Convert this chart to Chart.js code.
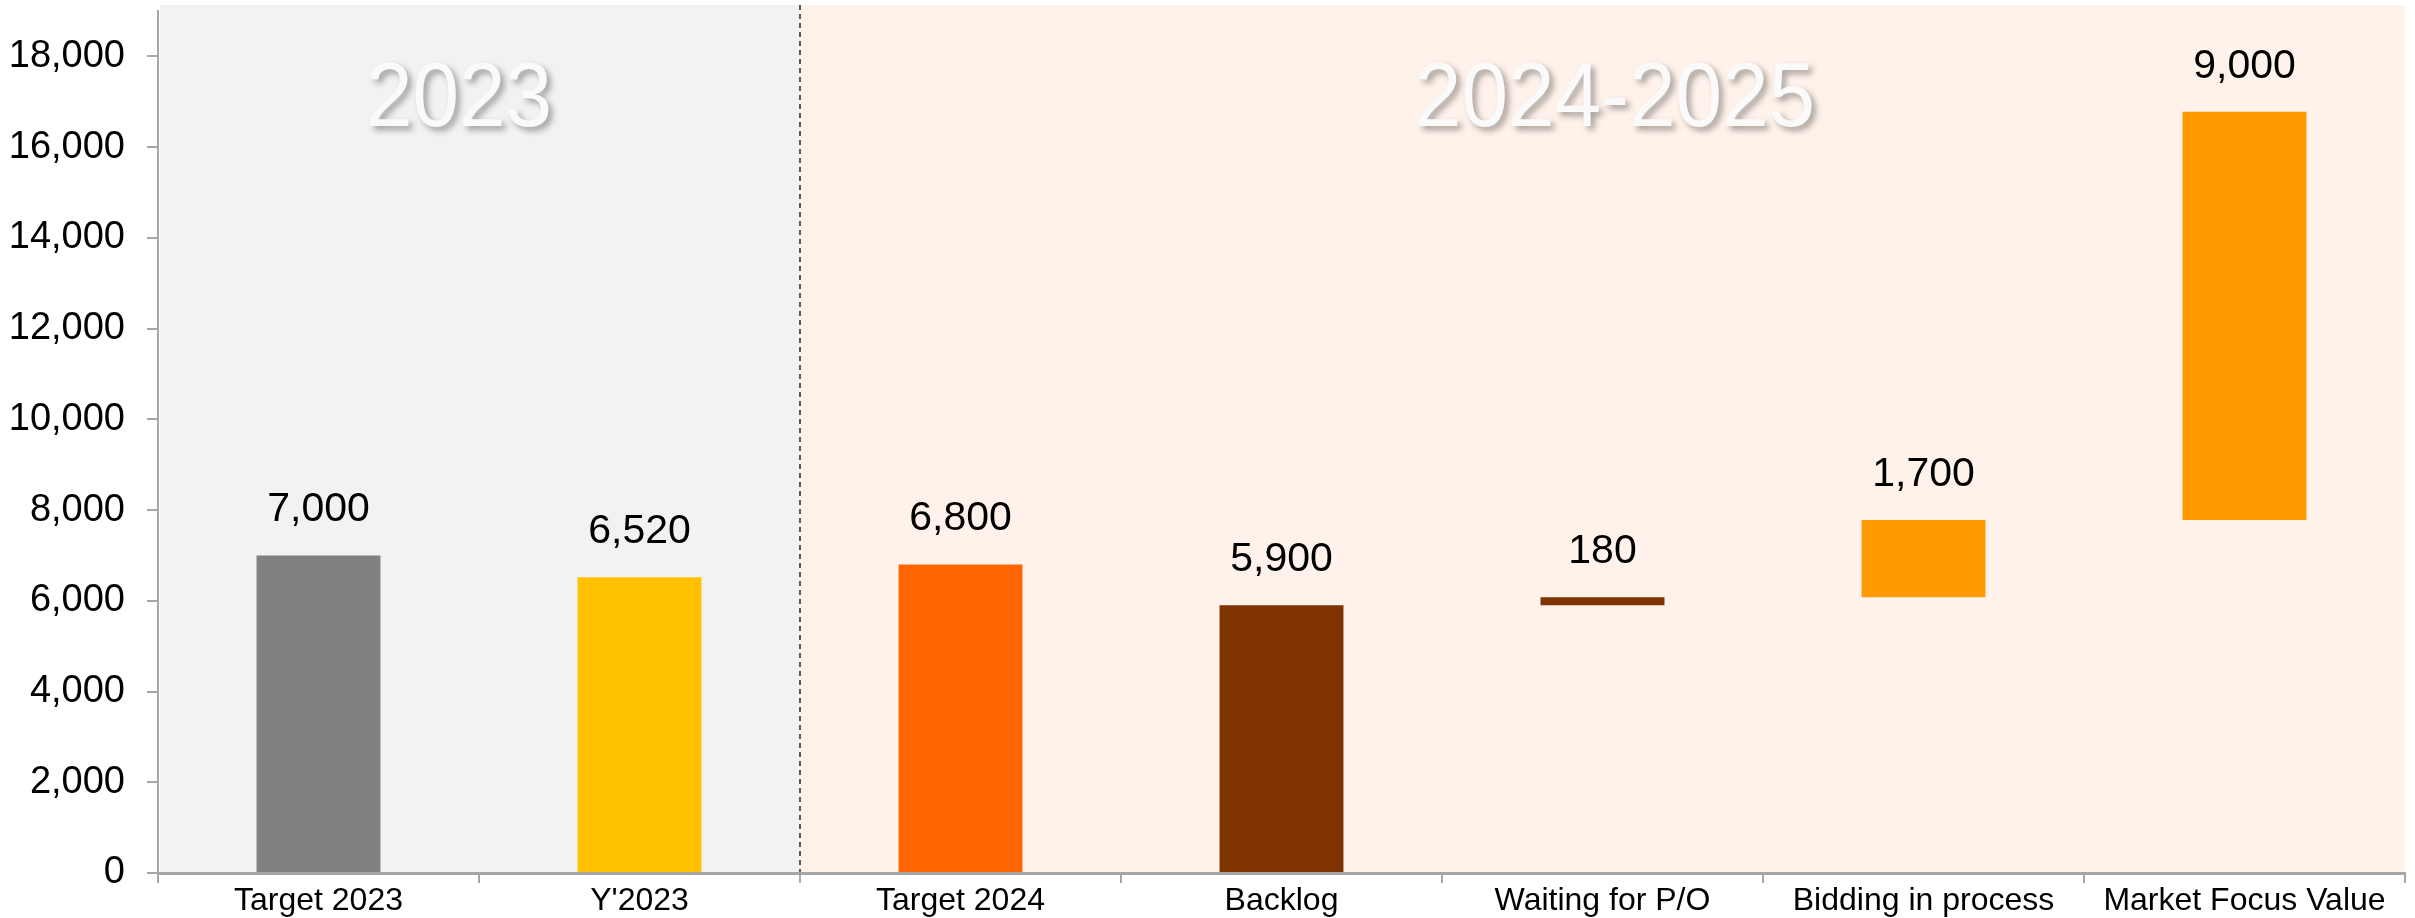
<!DOCTYPE html>
<html>
<head>
<meta charset="utf-8">
<script src="https://cdn.jsdelivr.net/npm/chart.js@4/dist/chart.umd.min.js"></script>
<style>
  html, body { margin: 0; padding: 0; background: #fff; }
  #wrap { width: 2415px; height: 918px; }
</style>
</head>
<body>
<div id="wrap"><canvas id="chart"></canvas></div>
<script>
var categories = ['Target 2023', "Y'2023", 'Target 2024', 'Backlog', 'Waiting for P/O', 'Bidding in process', 'Market Focus Value'];
var values = [7000, 6520, 6800, 5900, 180, 1700, 9000];
// waterfall steps sit on top of the previous bar
var steps = [false, false, false, false, true, true, true];
var barColors = ['#808080', '#FFC000', '#FF6600', '#7F3300', '#7F3300', '#FF9900', '#FF9900'];
var yTicks = [0, 2000, 4000, 6000, 8000, 10000, 12000, 14000, 16000, 18000];
var periods = ['2023', '2024-2025'];

var bars = [];
var prevTop = 0;
values.forEach(function (v, i) {
  var base = steps[i] ? prevTop : 0;
  bars.push([base, base + v]);
  prevTop = base + v;
});

var FONT = "'Liberation Sans', Arial, sans-serif";

var backdrop = {
  id: 'backdrop',
  beforeDraw: function (chart) {
    var ctx = chart.ctx, a = chart.chartArea, x = chart.scales.x;
    var split = (x.getPixelForValue(1) + x.getPixelForValue(2)) / 2;
    var top = a.top - 6;
    ctx.save();
    ctx.fillStyle = '#F2F2F2';
    ctx.fillRect(a.left + 2, top, split - a.left - 2, a.bottom - top);
    ctx.fillStyle = '#FEF2EA';
    ctx.fillRect(split, top, a.right - split, a.bottom - top);

    ctx.strokeStyle = '#595959';
    ctx.lineWidth = 2;
    ctx.setLineDash([5, 4]);
    ctx.beginPath();
    ctx.moveTo(split, top);
    ctx.lineTo(split, a.bottom);
    ctx.stroke();
    ctx.setLineDash([]);

    // period headings
    var spots = [459, 1615];
    ctx.font = '90px ' + FONT;
    ctx.textAlign = 'center';
    ctx.textBaseline = 'alphabetic';
    ctx.shadowColor = 'rgba(0,0,0,0.35)';
    ctx.shadowBlur = 6;
    ctx.shadowOffsetX = 4;
    ctx.shadowOffsetY = 4;
    ctx.fillStyle = '#FAFAFA';
    periods.forEach(function (p, i) {
      ctx.save();
      ctx.translate(spots[i], 126);
      ctx.scale(0.93, 1);
      ctx.fillText(p, 0, 0);
      ctx.restore();
    });
    ctx.restore();
  }
};

var valueLabels = {
  id: 'valueLabels',
  afterDatasetsDraw: function (chart) {
    var ctx = chart.ctx;
    var meta = chart.getDatasetMeta(0);
    ctx.save();
    ctx.font = '41px ' + FONT;
    ctx.fillStyle = '#000';
    ctx.textAlign = 'center';
    ctx.textBaseline = 'alphabetic';
    meta.data.forEach(function (bar, i) {
      ctx.fillText(values[i].toLocaleString('en-US'), bar.x, bar.y - 34);
    });
    ctx.restore();
  }
};

new Chart(document.getElementById('chart').getContext('2d'), {
  type: 'bar',
  data: {
    labels: categories,
    datasets: [{
      data: bars,
      backgroundColor: barColors,
      borderWidth: 0,
      barPercentage: 0.386,
      categoryPercentage: 1
    }]
  },
  options: {
    responsive: true,
    maintainAspectRatio: false,
    animation: false,
    layout: { padding: { top: 11, right: 10, left: 0, bottom: 0 } },
    plugins: {
      legend: { display: false },
      tooltip: { enabled: false }
    },
    scales: {
      x: {
        grid: { display: true, offset: true, drawOnChartArea: false, drawTicks: true, tickLength: 10, color: '#A6A6A6', lineWidth: 2 },
        border: { display: true, color: '#A6A6A6', width: 3 },
        ticks: { color: '#000', font: { family: FONT, size: 32 }, padding: -1, maxRotation: 0, autoSkip: false },
        afterFit: function (s) { s.height = 45; s.paddingLeft = 0; s.paddingRight = 0; }
      },
      y: {
        min: 0,
        max: 19000,
        grid: { display: true, drawOnChartArea: false, drawTicks: true, tickLength: 11, color: '#A6A6A6', lineWidth: 2 },
        border: { display: true, color: '#A6A6A6', width: 2 },
        ticks: {
          color: '#000',
          padding: 22,
          font: { family: FONT, size: 38 },
          callback: function (v) { return v.toLocaleString('en-US'); }
        },
        afterBuildTicks: function (s) {
          s.ticks = yTicks.map(function (v) { return { value: v }; });
        },
        afterFit: function (s) { s.width = 158; s.paddingTop = 0; s.paddingBottom = 0; }
      }
    }
  },
  plugins: [backdrop, valueLabels]
});
</script>
</body>
</html>
